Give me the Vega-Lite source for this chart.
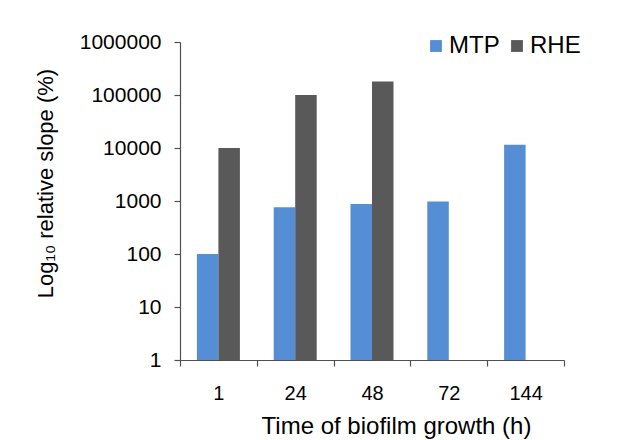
{
  "$schema": "https://vega.github.io/schema/vega-lite/v6.json",
  "width": 384,
  "height": 318,
  "autosize": {"type": "none"},
  "padding": {"left": 180, "top": 42, "right": 68, "bottom": 80},
  "background": "white",
  "config": {
    "view": {"stroke": null},
    "font": "Liberation Sans",
    "axis": {"grid": false, "domainColor": "#505050", "tickColor": "#505050", "domainWidth": 1.2, "tickWidth": 1.2, "labelColor": "#000000", "titleColor": "#000000", "titleFontWeight": "normal", "labelFont": "Liberation Sans", "titleFont": "Liberation Sans"}
  },
  "data": {
    "values": [
      {"time": "1", "series": "MTP", "value": 100},
      {"time": "1", "series": "RHE", "value": 10000},
      {"time": "24", "series": "MTP", "value": 760},
      {"time": "24", "series": "RHE", "value": 100000},
      {"time": "48", "series": "MTP", "value": 880},
      {"time": "48", "series": "RHE", "value": 180000},
      {"time": "72", "series": "MTP", "value": 980},
      {"time": "144", "series": "MTP", "value": 11500}
    ]
  },
  "mark": {"type": "bar"},
  "encoding": {
    "x": {
      "field": "time",
      "type": "ordinal",
      "sort": ["1", "24", "48", "72", "144"],
      "scale": {"paddingInner": 0, "paddingOuter": 0},
      "axis": {
        "title": "Time of biofilm growth (h)",
        "labelAngle": 0,
        "labelFontSize": 20,
        "labelPadding": 17,
        "tickSize": 6,
        "tickBand": "extent",
        "titleFontSize": 24,
        "titleX": 216,
        "titleY": 73,
        "titleBaseline": "alphabetic",
        "titleAnchor": null
      }
    },
    "xOffset": {
      "field": "series",
      "type": "nominal",
      "scale": {"domain": ["MTP", "RHE"], "paddingInner": 0, "paddingOuter": 0.786}
    },
    "y": {
      "field": "value",
      "type": "quantitative",
      "scale": {"type": "log", "domain": [1, 1000000], "nice": false},
      "axis": {
        "title": "Log₁₀ relative slope (%)",
        "values": [1, 10, 100, 1000, 10000, 100000, 1000000],
        "format": "d",
        "labelFontSize": 21,
        "labelPadding": 13,
        "tickSize": 6,
        "titleFontSize": 22,
        "titleX": -123,
        "titleY": 141,
        "titleAnchor": null
      }
    },
    "y2": {"datum": 1},
    "color": {
      "field": "series",
      "type": "nominal",
      "scale": {"domain": ["MTP", "RHE"], "range": ["#558ED5", "#595959"]},
      "legend": {
        "title": null,
        "orient": "none",
        "direction": "horizontal",
        "legendX": 244,
        "legendY": -8,
        "symbolType": "square",
        "symbolSize": 140,
        "symbolStrokeWidth": 0,
        "labelFontSize": 24,
        "labelOffset": 1,
        "columnPadding": 5,
        "labelColor": "#000000"
      }
    }
  }
}
